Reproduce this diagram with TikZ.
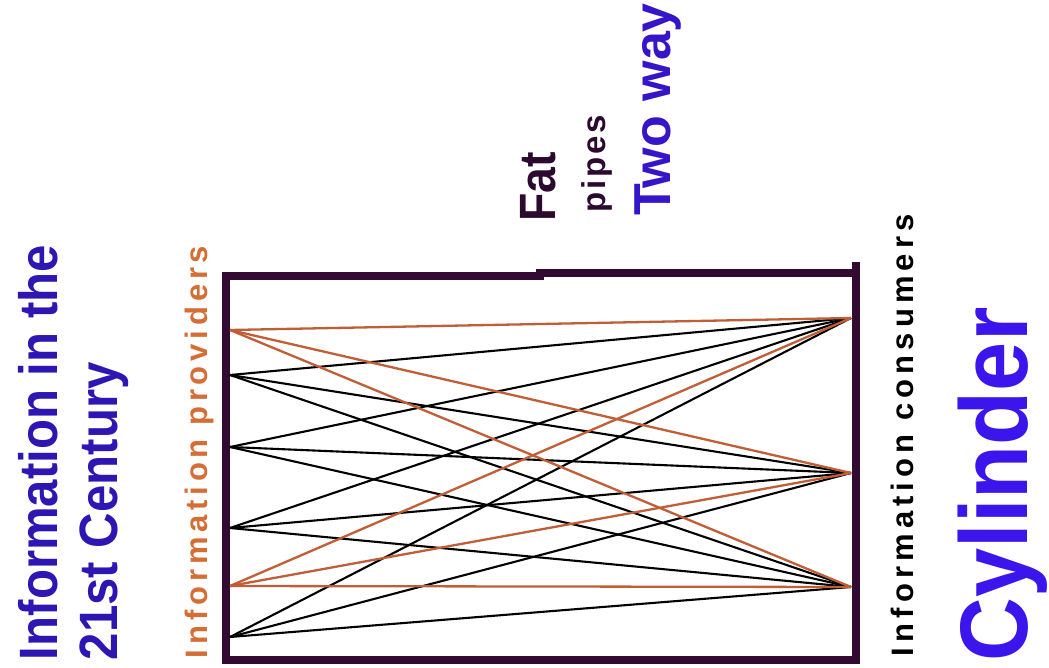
\documentclass[tikz,border=0pt]{standalone}
\usepackage{fontspec}
\setmainfont{Liberation Sans}
\newfontfamily\condsans[FakeStretch=0.91]{Liberation Sans}
\newfontfamily\provsans[LetterSpace=15.6]{Liberation Sans}
\newfontfamily\conssans[LetterSpace=16.5]{Liberation Sans}
\newfontfamily\pipesans[LetterSpace=9]{Liberation Sans}
\newfontfamily\bigsans[FakeStretch=0.92]{Liberation Sans}
\definecolor{titleblue}{RGB}{46,22,178}
\definecolor{brightblue}{RGB}{58,22,236}
\definecolor{wayblue}{RGB}{52,22,200}
\definecolor{darkplum}{RGB}{44,10,48}
\definecolor{boxcol}{RGB}{50,10,50}
\definecolor{provorange}{RGB}{212,110,52}
\definecolor{linecol}{RGB}{192,94,56}
\begin{document}
\begin{tikzpicture}[x=1pt,y=-1pt,
  frame/.style={draw=boxcol,line width=8pt,line join=miter},
  feed/.style={line width=2.1pt,draw=black},
  hotfeed/.style={line width=2.3pt,draw=linecol},
  lbl/.style={rotate=90,anchor=base west,inner sep=0pt,outer sep=0pt}]
\useasboundingbox (0,0) rectangle (1049,668);
\fill[white] (0,0) rectangle (1049,668);

% titles and captions, set sideways
\node[lbl,text=titleblue,font=\condsans\bfseries\fontsize{54}{54}\selectfont] (t1) at (57,660) {Information in the};
\node[lbl,text=titleblue,font=\condsans\bfseries\fontsize{54}{54}\selectfont] (t2) at (117,660) {21st Century};
\node[lbl,text=provorange,font=\provsans\bfseries\fontsize{31}{31}\selectfont] (prov) at (207,658) {Information providers};
\node[lbl,text=darkplum,font=\condsans\bfseries\fontsize{51}{51}\selectfont] (fat) at (555,222) {Fat};
\node[lbl,text=darkplum,font=\pipesans\bfseries\fontsize{33}{33}\selectfont] (pipes) at (605,213) {pipes};
\node[lbl,text=wayblue,font=\bfseries\fontsize{52}{52}\selectfont] (way) at (670,216) {Two way};
\node[lbl,text=black,font=\conssans\bfseries\fontsize{31}{31}\selectfont] (cons) at (913,656) {Information consumers};
\node[lbl,text=brightblue,font=\bigsans\bfseries\fontsize{96}{96}\selectfont] (cyl) at (1027,661) {Cylinder};

% the pipe frame
\draw[frame] (856,262) -- (856,660) -- (226,660) -- (226,276) -- (540,276) -- (540,273) -- (856,273);

% providers on the left, consumers on the right
\coordinate (p1) at (230,330);
\coordinate (p2) at (230,375);
\coordinate (p3) at (230,447);
\coordinate (p4) at (230,528);
\coordinate (p5) at (230,586);
\coordinate (p6) at (230,637);
\coordinate (c1) at (851,318);
\coordinate (c2) at (851,473);
\coordinate (c3) at (851,587);

% every provider feeds every consumer
\foreach \p in {p2,p3,p4,p6}
  \foreach \c in {c1,c2,c3}
    \draw[feed] (\p) -- (\c);
\foreach \p in {p1,p5}
  \foreach \c in {c1,c2,c3}
    \draw[hotfeed] (\p) -- (\c);
\end{tikzpicture}
\end{document}
